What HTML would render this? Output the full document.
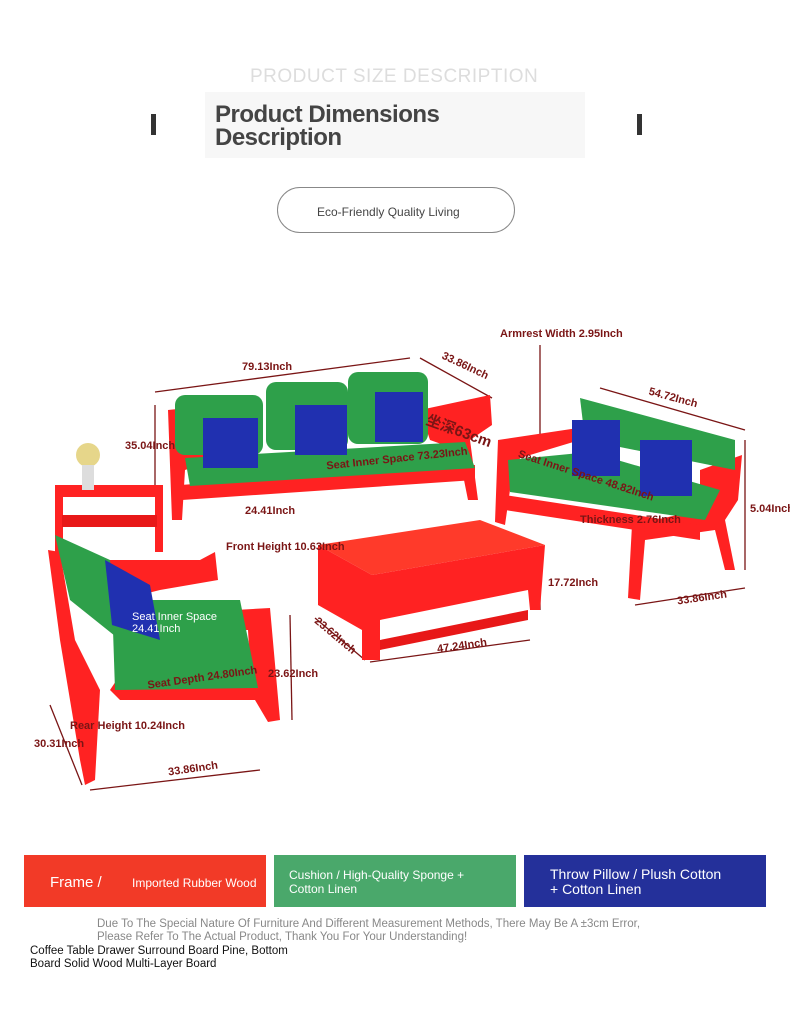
<!DOCTYPE html>
<html><head><meta charset="utf-8"><style>
body{margin:0;width:790px;height:1025px;background:#fff;position:relative;font-family:"Liberation Sans",sans-serif;overflow:hidden}
.a{position:absolute;white-space:nowrap}
.d{font-size:11px;color:#7a1515;font-weight:bold;font-family:"Liberation Sans","Noto Sans CJK SC",sans-serif}
</style></head><body>
<div class="a" style="left:250px;top:66px;font-size:19px;color:#ddd;letter-spacing:0.5px">PRODUCT SIZE DESCRIPTION</div>
<div class="a" style="left:205px;top:92px;width:380px;height:66px;background:#f7f7f7"></div>
<div class="a" style="left:215px;top:103px;font-size:24px;font-weight:bold;color:#444;line-height:23px;letter-spacing:-0.5px">Product Dimensions<br>Description</div>
<div class="a" style="left:151px;top:114px;width:5px;height:21px;background:#333"></div>
<div class="a" style="left:637px;top:114px;width:5px;height:21px;background:#333"></div>
<div class="a" style="left:277px;top:187px;width:238px;height:46px;border:1px solid #888;border-radius:24px;box-sizing:border-box"></div>
<div class="a" style="left:317px;top:205px;font-size:12px;color:#444">Eco-Friendly Quality Living</div>

<svg class="a" style="left:0;top:0" width="790" height="840">
<g stroke="#7a1515" stroke-width="1.3" fill="none">
<line x1="155" y1="392" x2="410" y2="358"/><line x1="420" y1="358" x2="492" y2="398"/>
<line x1="155" y1="405" x2="155" y2="490"/><line x1="540" y1="345" x2="540" y2="440"/>
<line x1="600" y1="388" x2="745" y2="430"/><line x1="745" y1="440" x2="745" y2="570"/>
<line x1="635" y1="605" x2="745" y2="588"/><line x1="540" y1="570" x2="540" y2="610"/>
<line x1="315" y1="618" x2="365" y2="660"/><line x1="370" y1="662" x2="530" y2="640"/>
<line x1="290" y1="615" x2="292" y2="720"/><line x1="50" y1="705" x2="82" y2="785"/>
<line x1="90" y1="790" x2="260" y2="770"/>
</g>
<rect x="55" y="485" width="108" height="12" fill="#f22"/>
<rect x="55" y="497" width="8" height="55" fill="#f22"/><rect x="155" y="497" width="8" height="55" fill="#f22"/>
<rect x="62" y="515" width="95" height="12" fill="#e81818"/>
<circle cx="88" cy="455" r="12" fill="#e6d68a"/><rect x="82" y="465" width="12" height="25" fill="#ddd"/>
<path d="M168 410 L215 405 L215 460 L185 470 L182 520 L172 520Z" fill="#f22"/>
<path d="M420 410 L490 395 L492 425 L470 440 L478 500 L468 500 L458 450 L430 440Z" fill="#f22"/>
<path d="M180 485 L475 465 L475 480 L182 500Z" fill="#f22"/>
<rect x="175" y="395" width="88" height="60" rx="10" fill="#2ea04a"/>
<rect x="266" y="382" width="82" height="68" rx="10" fill="#2ea04a"/>
<rect x="348" y="372" width="80" height="72" rx="10" fill="#2ea04a"/>
<path d="M185 458 L465 442 L475 468 L190 486Z" fill="#2ea04a"/>
<rect x="203" y="418" width="55" height="50" fill="#2030b0"/>
<rect x="295" y="405" width="52" height="50" fill="#2030b0"/>
<rect x="375" y="392" width="48" height="50" fill="#2030b0"/>
<path d="M498 440 L578 428 L580 440 L520 458 L510 490 L505 525 L495 522Z" fill="#f22"/>
<path d="M700 470 L742 455 L738 500 L725 520 L735 570 L725 570 L715 530 L645 540 L640 600 L628 598 L632 525 L700 510Z" fill="#f22"/>
<path d="M505 495 L700 525 L700 540 L505 510Z" fill="#f22"/>
<path d="M580 398 L735 440 L735 470 L585 440Z" fill="#2ea04a"/>
<path d="M508 460 L590 452 L720 490 L705 520 L510 492Z" fill="#2ea04a"/>
<rect x="572" y="420" width="48" height="56" fill="#2030b0"/>
<rect x="640" y="440" width="52" height="56" fill="#2030b0"/>
<path d="M318 545 L480 520 L545 545 L372 575Z" fill="#ff3a2a"/>
<path d="M318 545 L372 575 L372 660 L362 660 L362 630 L318 605Z" fill="#f22"/>
<path d="M372 575 L545 545 L540 610 L530 610 L528 590 L380 620 L380 660 L372 660Z" fill="#f22"/>
<path d="M380 640 L528 610 L528 620 L380 650Z" fill="#e81818"/>
<path d="M48 550 L60 552 L75 640 L100 690 L95 780 L85 785 L80 760 L60 640Z" fill="#f22"/>
<path d="M110 560 L200 560 L215 552 L218 580 L160 590 L120 600 L110 580Z" fill="#f22"/>
<path d="M200 612 L270 608 L280 720 L268 722 L255 700 L120 700 L110 690 L120 675 L250 665 L248 630 L205 630Z" fill="#f22"/>
<path d="M55 535 L110 560 L120 640 L70 600Z" fill="#2ea04a"/>
<path d="M112 600 L240 600 L258 688 L115 690Z" fill="#2ea04a"/>
<path d="M105 560 L150 585 L160 640 L112 625Z" fill="#2030b0"/>
</svg>
<div class="a d" style="left:242px;top:361px">79.13Inch</div>
<div class="a d" style="left:440px;top:360px;transform:rotate(25deg)">33.86Inch</div>
<div class="a d" style="left:500px;top:328px">Armrest Width 2.95Inch</div>
<div class="a d" style="left:125px;top:440px">35.04Inch</div>
<div class="a d" style="left:648px;top:392px;transform:rotate(15deg)">54.72Inch</div>
<div class="a d" style="left:245px;top:505px">24.41Inch</div>
<div class="a d" style="left:326px;top:453px;transform:rotate(-6deg)">Seat Inner Space 73.23Inch</div>
<div class="a d" style="left:425px;top:420px;font-size:15px;transform:rotate(20deg)">坐深63cm</div>
<div class="a d" style="left:515px;top:470px;transform:rotate(18deg)">Seat Inner Space 48.82Inch</div>
<div class="a d" style="left:580px;top:514px">Thickness 2.76Inch</div>
<div class="a d" style="left:750px;top:503px">5.04Inch</div>
<div class="a d" style="left:226px;top:541px">Front Height 10.63Inch</div>
<div class="a d" style="left:548px;top:577px">17.72Inch</div>
<div class="a d" style="left:677px;top:592px;transform:rotate(-8deg)">33.86Inch</div>
<div class="a d" style="left:310px;top:630px;transform:rotate(40deg)">23.62Inch</div>
<div class="a d" style="left:437px;top:640px;transform:rotate(-8deg)">47.24Inch</div>
<div class="a d" style="left:132px;top:611px;color:#fff;font-weight:normal">Seat Inner Space<br>24.41Inch</div>
<div class="a d" style="left:147px;top:672px;transform:rotate(-8deg)">Seat Depth 24.80Inch</div>
<div class="a d" style="left:268px;top:668px">23.62Inch</div>
<div class="a d" style="left:70px;top:720px">Rear Height 10.24Inch</div>
<div class="a d" style="left:34px;top:738px">30.31Inch</div>
<div class="a d" style="left:168px;top:763px;transform:rotate(-8deg)">33.86Inch</div>

<div class="a" style="left:24px;top:855px;width:242px;height:52px;background:#f23a27"></div>
<div class="a" style="left:274px;top:855px;width:242px;height:52px;background:#4aa86b"></div>
<div class="a" style="left:524px;top:855px;width:242px;height:52px;background:#24309a"></div>
<div class="a" style="left:50px;top:874px;font-size:15px;color:#fff">Frame /</div>
<div class="a" style="left:132px;top:876px;font-size:12px;color:#fff">Imported Rubber Wood</div>
<div class="a" style="left:289px;top:868px;font-size:12px;color:#fff;line-height:14px">Cushion / High-Quality Sponge +<br>Cotton Linen</div>
<div class="a" style="left:550px;top:867px;font-size:14px;color:#fff;line-height:15px">Throw Pillow / Plush Cotton<br>+ Cotton Linen</div>
<div class="a" style="left:97px;top:918px;font-size:11.5px;color:#888;line-height:13px">Due To The Special Nature Of Furniture And Different Measurement Methods, There May Be A ±3cm Error,<br>Please Refer To The Actual Product, Thank You For Your Understanding!</div>
<div class="a" style="left:30px;top:945px;font-size:11.5px;color:#111;line-height:13px">Coffee Table Drawer Surround Board Pine, Bottom<br>Board Solid Wood Multi-Layer Board</div>
</body></html>
